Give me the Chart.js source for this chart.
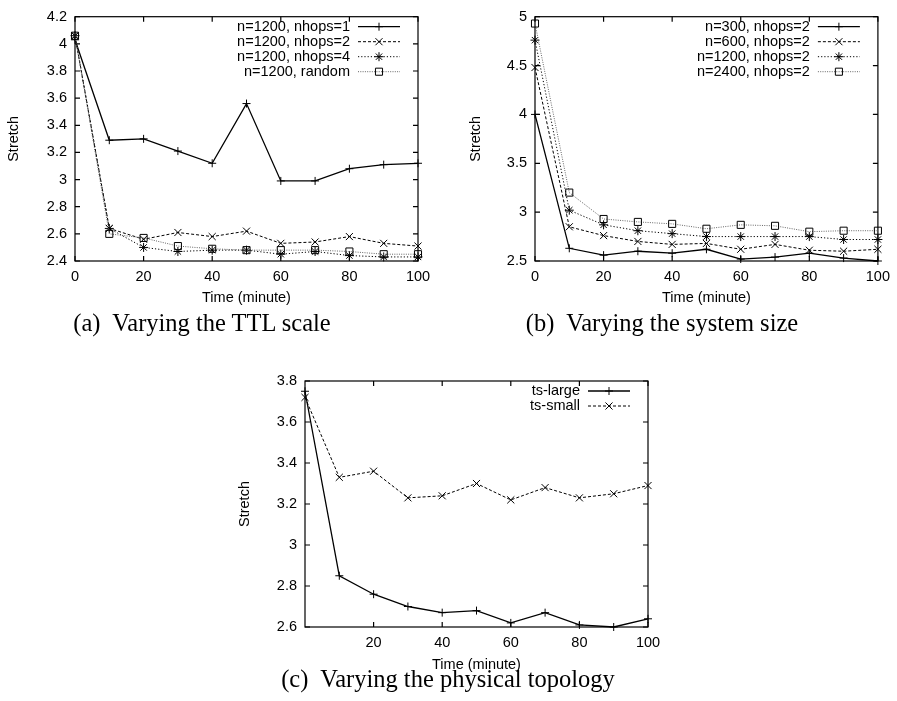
<!DOCTYPE html>
<html>
<head>
<meta charset="utf-8">
<title>Stretch over time</title>
<script src="https://cdn.jsdelivr.net/npm/chart.js@4.4.1/dist/chart.umd.min.js"></script>
<style>
  body { margin: 0; background: #fff; }
  #page { position: relative; width: 897px; height: 701px; overflow: hidden; background: #fff; }
  canvas { position: absolute; }
  .cap { position: absolute; font-family: "Liberation Serif", "DejaVu Serif", serif; font-size: 24.5px;
         line-height: 24.5px; white-space: pre; color: #000; transform: translateX(-50%); }
</style>
</head>
<body>
<div id="page">
  <canvas id="ca" width="450" height="310" style="left:0;top:0"></canvas>
  <canvas id="cb" width="447" height="310" style="left:450px;top:0"></canvas>
  <canvas id="cc" width="450" height="335" style="left:220px;top:340px"></canvas>
  <div class="cap" style="left:202px;top:311px">(a)  Varying the TTL scale</div>
  <div class="cap" style="left:662px;top:311px">(b)  Varying the system size</div>
  <div class="cap" style="left:448px;top:667px">(c)  Varying the physical topology</div>
</div>
<script>
// time axis (minutes)
const times = [0, 10, 20, 30, 40, 50, 60, 70, 80, 90, 100];

// (a) TTL scale, n=1200
const nhops1 = [4.03, 3.29, 3.30, 3.21, 3.12, 3.56, 2.99, 2.99, 3.08, 3.11, 3.12];
const nhops2 = [4.06, 2.64, 2.56, 2.61, 2.58, 2.62, 2.53, 2.54, 2.58, 2.53, 2.51];
const nhops4 = [4.06, 2.64, 2.50, 2.47, 2.48, 2.48, 2.45, 2.47, 2.44, 2.43, 2.43];
const random = [4.06, 2.60, 2.57, 2.51, 2.49, 2.48, 2.48, 2.48, 2.47, 2.45, 2.45];

// (b) system size, nhops=2
const n300  = [4.00, 2.63, 2.56, 2.60, 2.58, 2.62, 2.52, 2.54, 2.58, 2.53, 2.50];
const n600  = [4.48, 2.85, 2.76, 2.70, 2.67, 2.68, 2.62, 2.67, 2.61, 2.60, 2.62];
const n1200 = [4.76, 3.02, 2.87, 2.81, 2.78, 2.75, 2.75, 2.75, 2.75, 2.72, 2.72];
const n2400 = [4.93, 3.20, 2.93, 2.90, 2.88, 2.83, 2.87, 2.86, 2.80, 2.81, 2.81];

// (c) physical topology
const tsLarge = [3.75, 2.85, 2.76, 2.70, 2.67, 2.68, 2.62, 2.67, 2.61, 2.60, 2.64];
const tsSmall = [3.72, 3.33, 3.36, 3.23, 3.24, 3.30, 3.22, 3.28, 3.23, 3.25, 3.29];

// tick labels
const xTicksAB = [0, 20, 40, 60, 80, 100];
const xTicksC  = [20, 40, 60, 80, 100];
const yTicksA  = [2.4, 2.6, 2.8, 3, 3.2, 3.4, 3.6, 3.8, 4, 4.2];
const yTicksB  = [2.5, 3, 3.5, 4, 4.5, 5];
const yTicksC  = [2.6, 2.8, 3, 3.2, 3.4, 3.6, 3.8];

const FONT = { family: "'Liberation Sans', Arial, sans-serif", size: 14.5, lineHeight: 1.2 };
Chart.defaults.color = '#000';
Chart.defaults.font = FONT;

// gnuplot-like line types
const styles = {
  solid:  { borderColor: '#000', borderWidth: 1.3, borderDash: [],       pointStyle: 'cross',    pointRadius: 4 },
  dashed: { borderColor: '#000', borderWidth: 1,   borderDash: [3, 2],   pointStyle: 'crossRot', pointRadius: 5 },
  dotted: { borderColor: '#000', borderWidth: 1,   borderDash: [1.2, 2], pointStyle: 'star',     pointRadius: 4.5 },
  grey:   { borderColor: '#666', borderWidth: 1,   borderDash: [1, 1.3], pointStyle: 'rect',     pointRadius: 5 }
};

function series(label, vals, kind, idx, count) {
  const s = styles[kind];
  return {
    label: label,
    data: times.map((t, i) => ({ x: t, y: vals[i] })),
    borderColor: s.borderColor,
    borderWidth: s.borderWidth,
    borderDash: s.borderDash,
    pointStyle: s.pointStyle,
    pointRadius: s.pointRadius,
    pointBorderColor: '#000',
    pointBackgroundColor: 'rgba(0,0,0,0)',
    pointBorderWidth: 1,
    tension: 0,
    fill: false,
    clip: false,
    order: count - idx
  };
}

// border box with inward tick marks on all four sides
const frame = {
  id: 'frame',
  beforeDatasetsDraw(chart) {
    const { ctx, chartArea: a, scales: { x, y } } = chart;
    const tl = 5;
    ctx.save();
    ctx.setLineDash([]);
    ctx.strokeStyle = '#000';
    ctx.lineWidth = 1.2;
    ctx.strokeRect(a.left, a.top, a.width, a.height);
    ctx.beginPath();
    x.ticks.forEach(t => {
      const px = x.getPixelForValue(t.value);
      ctx.moveTo(px, a.bottom); ctx.lineTo(px, a.bottom - tl);
      ctx.moveTo(px, a.top); ctx.lineTo(px, a.top + tl);
    });
    y.ticks.forEach(t => {
      const py = y.getPixelForValue(t.value);
      ctx.moveTo(a.left, py); ctx.lineTo(a.left + tl, py);
      ctx.moveTo(a.right, py); ctx.lineTo(a.right - tl, py);
    });
    ctx.stroke();
    ctx.restore();
  }
};

// key in the top right corner: text, then line sample with its marker
const keybox = {
  id: 'keybox',
  afterDraw(chart, args, opts) {
    const { ctx, chartArea: a } = chart;
    ctx.save();
    ctx.font = FONT.size + 'px ' + FONT.family;
    ctx.textAlign = 'right';
    ctx.textBaseline = 'middle';
    chart.data.datasets.forEach((ds, i) => {
      const yy = a.top + opts.dy + i * opts.gap;
      ctx.fillStyle = '#000';
      ctx.fillText(ds.label, a.right - 68, yy);
      ctx.strokeStyle = ds.borderColor;
      ctx.lineWidth = ds.borderWidth;
      ctx.setLineDash(ds.borderDash);
      ctx.beginPath();
      ctx.moveTo(a.right - 60, yy);
      ctx.lineTo(a.right - 18, yy);
      ctx.stroke();
      ctx.setLineDash([]);
      ctx.strokeStyle = '#000';
      ctx.fillStyle = 'rgba(0,0,0,0)';
      ctx.lineWidth = 1;
      Chart.helpers.drawPoint(ctx, { pointStyle: ds.pointStyle, radius: ds.pointRadius, rotation: 0, borderWidth: 1 }, a.right - 39, yy);
    });
    ctx.restore();
  }
};

function makeChart(id, datasets, o) {
  return new Chart(document.getElementById(id), {
    type: 'line',
    data: { datasets: datasets },
    options: {
      responsive: false,
      animation: false,
      layout: { padding: { top: o.top, right: o.right, left: 0, bottom: 0 } },
      plugins: {
        legend: { display: false },
        tooltip: { enabled: false },
        keybox: { dy: 10, gap: 15 }
      },
      scales: {
        x: {
          type: 'linear', min: o.xmin, max: 100,
          grid: { display: false, drawTicks: false }, border: { display: false },
          afterBuildTicks: s => { s.ticks = o.xt.map(v => ({ value: v })); },
          afterFit: s => { s.height = o.h - o.bottom; },
          ticks: { padding: 7, maxRotation: 0, callback: v => String(v) },
          title: { display: true, text: 'Time (minute)', padding: { top: 0, bottom: o.xtPad } }
        },
        y: {
          min: o.yt[0], max: o.yt[o.yt.length - 1],
          grid: { display: false, drawTicks: false }, border: { display: false },
          afterBuildTicks: s => { s.ticks = o.yt.map(v => ({ value: v })); },
          afterFit: s => { s.width = o.yw; },
          ticks: { padding: 8, callback: v => String(v) },
          title: { display: true, text: 'Stretch', padding: { top: o.ytPad, bottom: 0 } }
        }
      }
    },
    plugins: [frame, keybox]
  });
}

makeChart('ca', [
  series('n=1200, nhops=1', nhops1, 'solid', 0, 4),
  series('n=1200, nhops=2', nhops2, 'dashed', 1, 4),
  series('n=1200, nhops=4', nhops4, 'dotted', 2, 4),
  series('n=1200, random', random, 'grey', 3, 4)
], { top: 13, right: 32, h: 310, bottom: 261, yw: 75, xmin: 0, xt: xTicksAB, yt: yTicksA, xtPad: 3, ytPad: 5 });

makeChart('cb', [
  series('n=300, nhops=2', n300, 'solid', 0, 4),
  series('n=600, nhops=2', n600, 'dashed', 1, 4),
  series('n=1200, nhops=2', n1200, 'dotted', 2, 4),
  series('n=2400, nhops=2', n2400, 'grey', 3, 4)
], { top: 13, right: 19, h: 310, bottom: 261, yw: 85, xmin: 0, xt: xTicksAB, yt: yTicksB, xtPad: 3, ytPad: 17 });

makeChart('cc', [
  series('ts-large', tsLarge, 'solid', 0, 2),
  series('ts-small', tsSmall, 'dashed', 1, 2)
], { top: 41, right: 22, h: 335, bottom: 287, yw: 85, xmin: 0, xt: xTicksC, yt: yTicksC, xtPad: 1, ytPad: 16 });
</script>
</body>
</html>
